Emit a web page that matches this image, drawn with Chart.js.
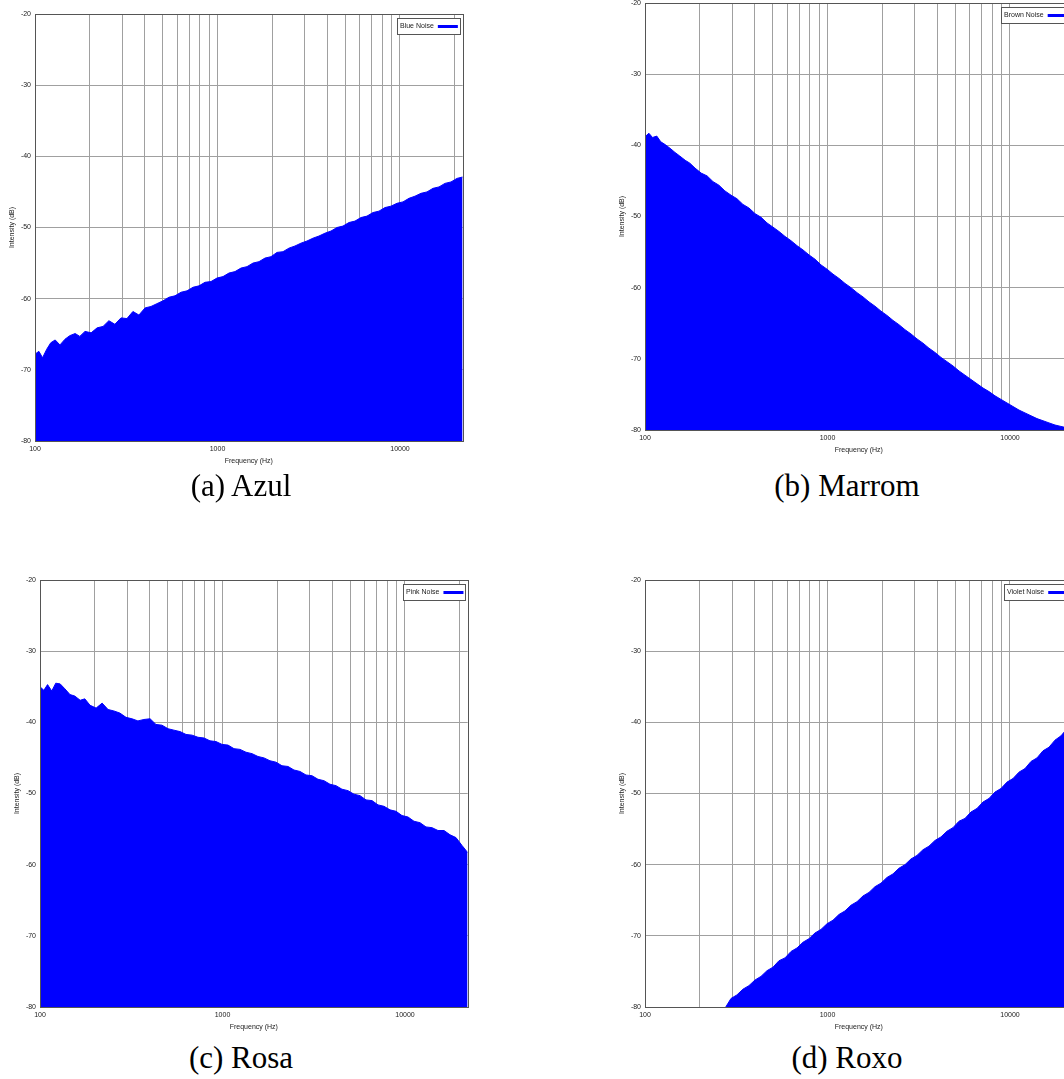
<!DOCTYPE html>
<html>
<head>
<meta charset="utf-8">
<title>Noise spectra</title>
<script src="https://cdn.jsdelivr.net/npm/chart.js@4.4.1/dist/chart.umd.min.js"></script>
<style>
  html, body { margin: 0; padding: 0; background: #fff; }
  body { position: relative; width: 1064px; height: 1079px; overflow: hidden; }
  canvas { position: absolute; }
  .caption {
    position: absolute;
    font-family: "Liberation Serif", "Times New Roman", serif;
    font-size: 31px;
    line-height: 36px;
    color: #000;
    white-space: nowrap;
    transform: translateX(-50%);
  }
</style>
</head>
<body>
<canvas id="blueChart"></canvas>
<canvas id="brownChart"></canvas>
<canvas id="pinkChart"></canvas>
<canvas id="violetChart"></canvas>
<div class="caption" style="left:241px; top:468px">(a) Azul</div>
<div class="caption" style="left:847px; top:468px">(b) Marrom</div>
<div class="caption" style="left:241px; top:1040px">(c) Rosa</div>
<div class="caption" style="left:847px; top:1040px">(d) Roxo</div>
<script>
// Frequency bins shared by all four spectra (Hz)
const freqHz = [100, 105, 110, 116, 122, 129, 137, 146, 155, 166, 176, 188, 203, 219, 236, 254,
  274, 296, 319, 344, 371, 401, 432, 466, 503, 542, 585, 631, 681, 734, 792, 854, 921, 994,
  1072, 1156, 1247, 1345, 1451, 1565, 1688, 1820, 1964, 2118, 2285, 2464, 2658, 2867, 3093,
  3336, 3598, 3881, 4187, 4516, 4871, 5254, 5667, 6113, 6594, 7112, 7672, 8275, 8926, 9628,
  10385, 11202, 12083, 13033, 14058, 15164, 16356, 17643, 19030, 20527, 22050];

// Intensity in dB for each noise colour
const blueNoiseDb = [-67.8, -67.4, -68.3, -67.1, -66.2, -65.8, -66.5, -65.7, -65.2, -64.9, -65.3, -64.6,
  -64.8, -64.1, -63.9, -63.1, -63.6, -62.7, -62.8, -61.8, -62.3, -61.3, -61.1, -60.7, -60.3, -59.8,
  -59.6, -59.1, -58.9, -58.4, -58.2, -57.7, -57.6, -57.1, -56.9, -56.4, -56.2, -55.7, -55.5, -55.0,
  -54.8, -54.3, -54.1, -53.5, -53.4, -52.9, -52.6, -52.2, -51.9, -51.5, -51.2, -50.8, -50.5, -50.0,
  -49.8, -49.3, -49.1, -48.6, -48.4, -47.9, -47.7, -47.2, -47.0, -46.6, -46.4, -45.9, -45.6, -45.2,
  -45.0, -44.5, -44.3, -43.8, -43.6, -43.1, -42.9];

const brownNoiseDb = [-38.8, -38.3, -38.9, -38.7, -39.5, -39.9, -40.4, -41.0, -41.5, -42.1, -42.5, -43.2,
  -43.9, -44.3, -45.1, -45.6, -46.4, -47.0, -47.5, -48.3, -48.8, -49.6, -50.1, -50.9, -51.5, -52.1,
  -52.8, -53.4, -54.1, -54.7, -55.4, -56.0, -56.8, -57.4, -58.1, -58.7, -59.4, -60.0, -60.7, -61.3,
  -62.0, -62.6, -63.3, -63.9, -64.6, -65.2, -65.9, -66.5, -67.2, -67.8, -68.5, -69.1, -69.8, -70.4,
  -71.0, -71.7, -72.3, -72.9, -73.5, -74.1, -74.6, -75.2, -75.7, -76.2, -76.7, -77.2, -77.6, -78.0,
  -78.4, -78.7, -79.0, -79.3, -79.5, -79.7, -79.8];

const pinkNoiseDb = [-35.0, -35.5, -34.7, -35.6, -34.5, -34.6, -35.3, -36.1, -36.3, -36.9, -36.7, -37.6,
  -38.0, -37.3, -38.2, -38.4, -38.7, -39.3, -39.5, -39.8, -39.6, -39.5, -40.3, -40.4, -40.9, -41.1,
  -41.3, -41.7, -41.8, -42.1, -42.2, -42.6, -42.7, -43.1, -43.2, -43.7, -43.8, -44.2, -44.4, -44.8,
  -45.0, -45.4, -45.6, -46.1, -46.2, -46.7, -46.9, -47.4, -47.5, -48.0, -48.2, -48.7, -48.9, -49.4,
  -49.6, -50.1, -50.3, -50.9, -51.0, -51.6, -51.8, -52.3, -52.5, -53.1, -53.3, -53.9, -54.1, -54.7,
  -54.8, -55.2, -55.2, -55.8, -56.2, -57.3, -58.3];

// below -80 dB under ~270 Hz, nothing to draw there
const violetNoiseDb = [null, null, null, null, null, null, null, null, null, null, null, null,
  null, null, null, null, -80.2, -78.8, -78.3, -77.5, -77.0, -76.2, -75.7, -74.9, -74.4, -73.5,
  -73.1, -72.2, -71.7, -70.9, -70.4, -69.6, -69.1, -68.3, -67.8, -67.0, -66.5, -65.7, -65.2, -64.4,
  -63.9, -63.1, -62.6, -61.8, -61.3, -60.5, -60.0, -59.2, -58.7, -57.9, -57.4, -56.6, -56.1, -55.3,
  -54.8, -53.9, -53.5, -52.6, -52.1, -51.2, -50.7, -49.8, -49.3, -48.4, -47.9, -47.0, -46.5, -45.5,
  -45.0, -44.0, -43.5, -42.5, -41.9, -40.9, -40.3];

// Axis ticks and labels
const xGridHz = [100, 200, 300, 400, 500, 600, 700, 800, 900, 1000, 2000, 3000, 4000, 5000,
  6000, 7000, 8000, 9000, 10000, 20000];
const xTickLabels = ['100', '1000', '10000'];
const yTicks = [-80, -70, -60, -50, -40, -30, -20];

const xMin = 100, xMax = 22050, yMin = -80, yMax = -20;
const blue = '#0000ff';

Chart.defaults.font.family = '"Liberation Sans", Arial, Helvetica, sans-serif';
Chart.defaults.font.size = 7;
Chart.defaults.color = '#222';

// outline around the plotting area
const plotFrame = {
  id: 'plotFrame',
  afterDatasetsDraw(chart) {
    const {ctx, chartArea: a} = chart;
    ctx.save();
    ctx.strokeStyle = '#555';
    ctx.lineWidth = 1;
    ctx.strokeRect(Math.round(a.left) + 0.5, Math.round(a.top) + 0.5,
      Math.round(a.right - a.left), Math.round(a.bottom - a.top));
    ctx.restore();
  }
};

// small boxed legend in the top right corner of the plot
const cornerLegend = {
  id: 'cornerLegend',
  afterDraw(chart) {
    const {ctx, chartArea: a} = chart;
    const ds = chart.data.datasets[0];
    ctx.save();
    ctx.font = '7px "Liberation Sans", Arial, sans-serif';
    const textW = ctx.measureText(ds.label).width;
    const boxW = Math.round(2 + textW + 4 + 20 + 3);
    const boxH = 16;
    const x = Math.round(a.right - 3 - boxW);
    const y = Math.round(a.top + 4);
    ctx.fillStyle = '#fff';
    ctx.fillRect(x, y, boxW, boxH);
    ctx.strokeStyle = '#555';
    ctx.lineWidth = 1;
    ctx.strokeRect(x + 0.5, y + 0.5, boxW, boxH);
    ctx.fillStyle = '#222';
    ctx.textBaseline = 'middle';
    ctx.fillText(ds.label, x + 3, y + boxH / 2 + 0.5);
    ctx.fillStyle = ds.borderColor;
    ctx.fillRect(x + 3 + textW + 4, y + boxH / 2 - 1, 20, 3);
    ctx.restore();
  }
};

function makeNoiseChart(canvasId, label, values, plotLeft, plotTop, plotBottom) {
  const decadePx = 182.5;
  const plotW = decadePx * Math.log10(xMax / xMin);
  const yAxisW = 35, xAxisH = 28, padTop = 14, padRight = 14;
  const canvas = document.getElementById(canvasId);
  canvas.width = Math.ceil(yAxisW + plotW + padRight);
  canvas.height = padTop + (plotBottom - plotTop) + xAxisH;
  canvas.style.left = (plotLeft - yAxisW) + 'px';
  canvas.style.top = (plotTop - padTop) + 'px';

  const points = freqHz.map((f, i) => ({x: f, y: values[i]}));

  return new Chart(canvas.getContext('2d'), {
    type: 'line',
    data: {
      datasets: [{
        label: label,
        data: points,
        borderColor: blue,
        backgroundColor: blue,
        borderWidth: 1,
        pointRadius: 0,
        tension: 0,
        fill: 'start'
      }]
    },
    options: {
      responsive: false,
      animation: false,
      events: [],
      layout: {padding: {top: padTop, right: canvas.width - yAxisW - plotW, bottom: 0, left: 0}},
      plugins: {legend: {display: false}, tooltip: {enabled: false}},
      scales: {
        x: {
          type: 'logarithmic',
          min: xMin,
          max: xMax,
          afterBuildTicks: (scale) => { scale.ticks = xGridHz.map(v => ({value: v})); },
          afterFit: (scale) => { scale.height = xAxisH; },
          ticks: {
            autoSkip: false,
            maxRotation: 0,
            padding: 4,
            callback: (v) => xTickLabels.includes(String(v)) ? String(v) : ''
          },
          grid: {color: '#a0a0a0', lineWidth: 1, drawTicks: false},
          border: {display: false},
          title: {display: true, text: 'Frequency (Hz)', padding: {top: 0, bottom: 4}}
        },
        y: {
          min: yMin,
          max: yMax,
          afterBuildTicks: (scale) => { scale.ticks = yTicks.map(v => ({value: v})); },
          afterFit: (scale) => { scale.width = yAxisW; },
          ticks: {padding: 4, callback: (v) => String(v)},
          grid: {color: '#a0a0a0', lineWidth: 1, drawTicks: false},
          border: {display: false},
          title: {display: true, text: 'Intensity (dB)', padding: {top: 8, bottom: 0}}
        }
      }
    },
    plugins: [plotFrame, cornerLegend]
  });
}

makeNoiseChart('blueChart', 'Blue Noise', blueNoiseDb, 35, 14, 441);
makeNoiseChart('brownChart', 'Brown Noise', brownNoiseDb, 645, 3, 430);
makeNoiseChart('pinkChart', 'Pink Noise', pinkNoiseDb, 40, 580, 1007);
makeNoiseChart('violetChart', 'Violet Noise', violetNoiseDb, 645, 580, 1007);
</script>
</body>
</html>
